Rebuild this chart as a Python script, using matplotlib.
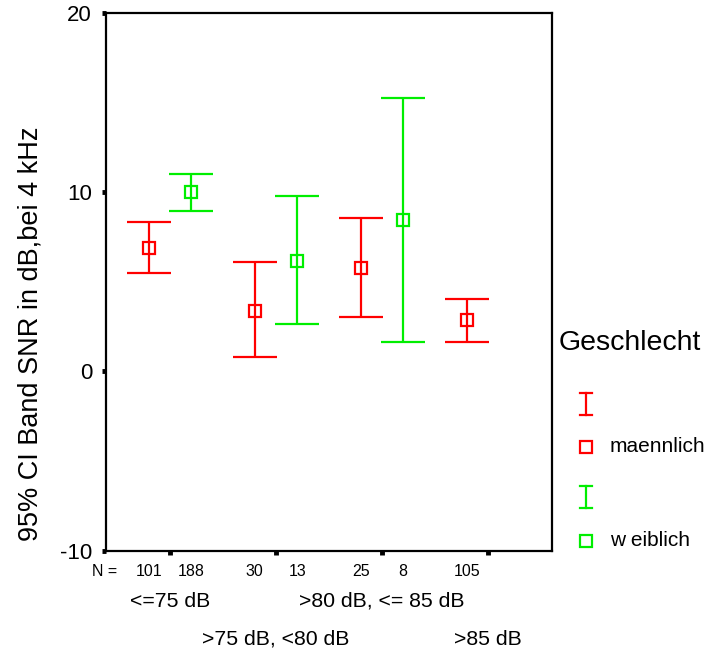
import numpy as np
import matplotlib.pyplot as plt
from matplotlib.lines import Line2D

plt.rcParams['font.family'] = ['Liberation Sans', 'DejaVu Sans']

# data
categories = ['<=75 dB', '>75 dB, <80 dB', '>80 dB, <= 85 dB', '>85 dB']
groups = ['maennlich', 'w eiblich']
colors = ['#ff0000', '#00ee00']

mean_m = [6.86, 3.38, 5.74, 2.86]
low_m = [5.50, 0.81, 3.05, 1.62]
high_m = [8.33, 6.08, 8.53, 4.05]
n_m = [101, 30, 25, 105]

mean_w = [9.98, 6.17, 8.42, np.nan]
low_w = [8.96, 2.62, 1.62, np.nan]
high_w = [10.98, 9.78, 15.23, np.nan]
n_w = [188, 13, 8, None]

W, H = 709, 657
fig = plt.figure(figsize=(W / 100, H / 100), dpi=100)
ax = fig.add_axes([106 / W, 1 - 550.7 / H, (552 - 106) / W, (550.7 - 12.7) / H])

x = np.arange(1, len(categories) + 1)
offset = 0.2
series = [(mean_m, low_m, high_m, -offset), (mean_w, low_w, high_w, offset)]
for (m, lo, hi, off), c in zip(series, colors):
    m, lo, hi = np.array(m), np.array(lo), np.array(hi)
    ok = ~np.isnan(m)
    ax.errorbar(x[ok] + off, m[ok], yerr=[m[ok] - lo[ok], hi[ok] - m[ok]],
                fmt='s', color=c, mfc='none', mec=c, ms=8.5, mew=1.6,
                ecolor=c, elinewidth=1.6, capsize=16, capthick=1.6)

ax.set_xlim(0.396, 4.604)
ax.set_ylim(-10, 20)
ax.set_yticks([-10, 0, 10, 20])
ax.set_yticklabels(['-10', '0', '10', '20'], fontsize=16)
ax.set_xticks(x)
ax.set_xticklabels([])
ax.tick_params(axis='both', direction='out', length=3, width=3.5, color='black')
ax.tick_params(axis='y', pad=7)
for s in ax.spines.values():
    s.set_linewidth(1.6)

# N counts under the axis
trans = ax.get_xaxis_transform()
fig.text(92 / W, 1 - 571 / H, 'N =', fontsize=11.5, ha='left', va='center')
for i in range(len(categories)):
    ax.text(x[i] - offset, -0.038, str(n_m[i]), transform=trans,
            fontsize=11.5, ha='center', va='center')
    if n_w[i] is not None:
        ax.text(x[i] + offset, -0.038, str(n_w[i]), transform=trans,
                fontsize=11.5, ha='center', va='center')

# staggered category labels
for i, lab in enumerate(categories):
    yy = -0.094 if i % 2 == 0 else -0.165
    ax.text(x[i], yy, lab, transform=trans, fontsize=15.3, ha='center', va='center')

fig.text(31 / W, 1 - 334 / H, '95% CI Band SNR in dB,bei 4 kHz',
         rotation=90, fontsize=19.5, ha='center', va='center')

# legend
fig.text(559 / W, 1 - 343 / H, 'Geschlecht', fontsize=20.5, ha='left', va='center')
ys = [(404, 447), (497, 541)]
for (ybar, ysq), c, g in zip(ys, colors, groups):
    xb = 586 / W
    fig.add_artist(Line2D([xb, xb], [1 - (ybar - 11) / H, 1 - (ybar + 11) / H],
                          color=c, lw=1.6))
    for yc in (ybar - 11, ybar + 11):
        fig.add_artist(Line2D([xb - 6 / W, xb + 6 / W], [1 - yc / H, 1 - yc / H],
                              color=c, lw=1.6))
    fig.add_artist(Line2D([xb], [1 - ysq / H], marker='s', ms=8.5, mfc='none',
                          mec=c, mew=1.6, lw=0))
    fig.text(610 / W, 1 - ysq / H, g, fontsize=15, ha='left', va='center')

fig.savefig('out.png', dpi=100)
